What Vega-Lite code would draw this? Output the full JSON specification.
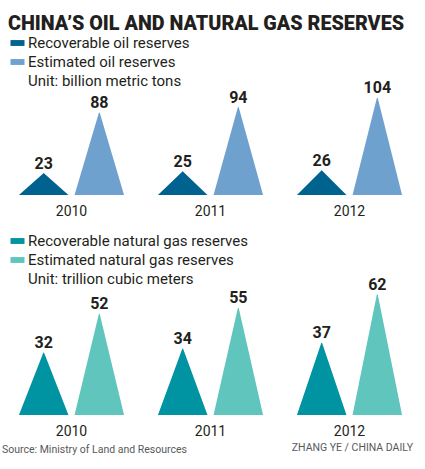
{
  "$schema": "https://vega.github.io/schema/vega-lite/v6.json",
  "padding": {"left": 2, "right": 4, "top": 13, "bottom": 4},
  "background": "white",
  "title": {"text": "CHINA’S OIL AND NATURAL GAS RESERVES", "anchor": "start", "font": "Roboto", "fontSize": 19.75, "fontWeight": 900, "color": "#231f20", "offset": 2, "dx": 6},
  "config": {"view": {"stroke": null}, "font": "Roboto"},
  "spacing": 14,
  "resolve": {"scale": {"color": "independent", "y": "independent", "x": "independent"}, "legend": {"color": "independent"}},
  "vconcat": [
    {
      "data": {"values": [
        {"year": "2010", "type": "Recoverable oil reserves", "value": 23},
        {"year": "2010", "type": "Estimated oil reserves", "value": 88},
        {"year": "2011", "type": "Recoverable oil reserves", "value": 25},
        {"year": "2011", "type": "Estimated oil reserves", "value": 94},
        {"year": "2012", "type": "Recoverable oil reserves", "value": 26},
        {"year": "2012", "type": "Estimated oil reserves", "value": 104}
      ]},
      "facet": {"column": {"field": "year", "type": "nominal", "title": null, "header": {"labelOrient": "bottom", "labelPadding": 10, "labelFont": "Roboto", "labelFontSize": 14, "labelColor": "#231f20"}}},
      "spacing": 0,
      "spec": {
        "width": 139,
        "height": 107,
        "encoding": {
          "x": {"field": "type", "type": "nominal", "scale": {"type": "band", "domain": ["Recoverable oil reserves", "Estimated oil reserves"], "paddingInner": 0, "paddingOuter": 0.25}, "axis": null}
        },
        "layer": [
          {
            "transform": [
              {"stack": "value", "groupby": ["year", "type"], "as": ["v0", "v1"]},
              {"fold": ["v0", "v1"], "as": ["end", "level"]}
            ],
            "mark": {"type": "trail", "clip": true},
            "encoding": {
              "y": {"field": "level", "type": "quantitative", "scale": {"domain": [0, 115], "nice": false}, "axis": null},
              "size": {"field": "end", "type": "ordinal", "scale": {"type": "point", "domain": ["v0", "v1"], "range": [49.5, 0], "padding": 0}, "legend": null},
              "color": {"field": "type", "type": "nominal", "scale": {"domain": ["Recoverable oil reserves", "Estimated oil reserves", "Unit: billion metric tons"], "range": ["#00628f", "#6fa1cf", "#ffffff"]},
                "legend": {"orient": "none", "legendX": 8, "legendY": -52.5, "title": null, "padding": 0, "symbolType": "M-1,-0.42H1V0.42H-1Z", "symbolSize": 196, "symbolStrokeWidth": 0, "labelFont": "Roboto", "labelFontSize": 15, "labelColor": "#231f20", "labelOffset": 3, "rowPadding": 3, "labelLimit": 400,
                  "encode": {"symbols": {"update": {"fill": {"signal": "datum.value === 'Recoverable oil reserves' ? '#00628f' : datum.value === 'Estimated oil reserves' ? '#6fa1cf' : '#ffffff'"}, "strokeWidth": {"value": 0}}}}}}
            }
          },
          {
            "mark": {"type": "text", "baseline": "alphabetic", "dy": -5, "fontSize": 16, "fontWeight": "bold", "color": "#231f20"},
            "encoding": {
              "y": {"field": "value", "type": "quantitative"},
              "text": {"field": "value", "type": "quantitative"}
            }
          }
        ]
      }
    },
    {
      "title": {"text": "ZHANG YE / CHINA DAILY", "orient": "bottom", "anchor": "end", "dx": -6, "offset": -13, "font": "Roboto", "fontSize": 10.5, "fontWeight": "normal", "color": "#58595b"},
      "data": {"values": [
        {"year": "2010", "type": "Recoverable natural gas reserves", "value": 32},
        {"year": "2010", "type": "Estimated natural gas reserves", "value": 52},
        {"year": "2011", "type": "Recoverable natural gas reserves", "value": 34},
        {"year": "2011", "type": "Estimated natural gas reserves", "value": 55},
        {"year": "2012", "type": "Recoverable natural gas reserves", "value": 37},
        {"year": "2012", "type": "Estimated natural gas reserves", "value": 62}
      ]},
      "facet": {"column": {"field": "year", "type": "nominal", "title": "Source: Ministry of Land and Resources", "header": {"labelOrient": "bottom", "labelPadding": 10, "labelFont": "Roboto", "labelFontSize": 14, "labelColor": "#231f20", "titleOrient": "bottom", "titleAnchor": "start", "titleAlign": "left", "titleFont": "Roboto", "titleFontSize": 10.5, "titleFontWeight": "normal", "titleColor": "#58595b", "titlePadding": -4}}},
      "spacing": 0,
      "spec": {
        "width": 139,
        "height": 129,
        "encoding": {
          "x": {"field": "type", "type": "nominal", "scale": {"type": "band", "domain": ["Recoverable natural gas reserves", "Estimated natural gas reserves"], "paddingInner": 0, "paddingOuter": 0.25}, "axis": null}
        },
        "layer": [
          {
            "transform": [
              {"stack": "value", "groupby": ["year", "type"], "as": ["v0", "v1"]},
              {"fold": ["v0", "v1"], "as": ["end", "level"]}
            ],
            "mark": {"type": "trail", "clip": true},
            "encoding": {
              "y": {"field": "level", "type": "quantitative", "scale": {"domain": [0, 66.5], "nice": false}, "axis": null},
              "size": {"field": "end", "type": "ordinal", "scale": {"type": "point", "domain": ["v0", "v1"], "range": [49.5, 0], "padding": 0}, "legend": null},
              "color": {"field": "type", "type": "nominal", "scale": {"domain": ["Recoverable natural gas reserves", "Estimated natural gas reserves", "Unit: trillion cubic meters"], "range": ["#0093a1", "#5fc5bd", "#ffffff"]},
                "legend": {"orient": "none", "legendX": 8, "legendY": -52.5, "title": null, "padding": 0, "symbolType": "M-1,-0.42H1V0.42H-1Z", "symbolSize": 196, "symbolStrokeWidth": 0, "labelFont": "Roboto", "labelFontSize": 15, "labelColor": "#231f20", "labelOffset": 3, "rowPadding": 3, "labelLimit": 400,
                  "encode": {"symbols": {"update": {"fill": {"signal": "datum.value === 'Recoverable natural gas reserves' ? '#0093a1' : datum.value === 'Estimated natural gas reserves' ? '#5fc5bd' : '#ffffff'"}, "strokeWidth": {"value": 0}}}}}}
            }
          },
          {
            "mark": {"type": "text", "baseline": "alphabetic", "dy": -5, "fontSize": 16, "fontWeight": "bold", "color": "#231f20"},
            "encoding": {
              "y": {"field": "value", "type": "quantitative"},
              "text": {"field": "value", "type": "quantitative"}
            }
          }
        ]
      }
    }
  ]
}
